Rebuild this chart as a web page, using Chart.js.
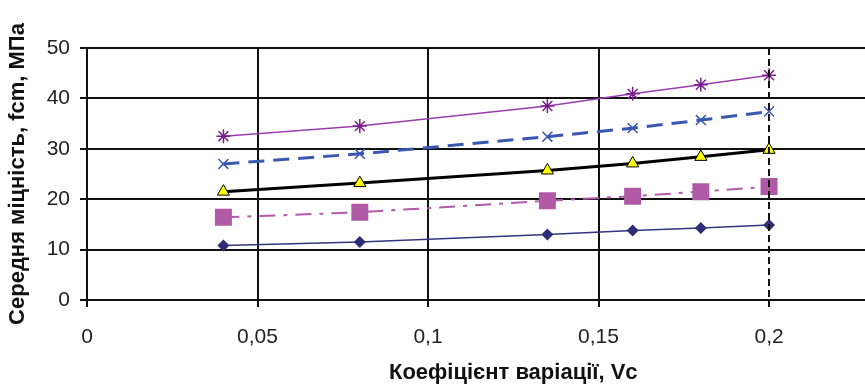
<!DOCTYPE html>
<html>
<head>
<meta charset="utf-8">
<script src="https://cdn.jsdelivr.net/npm/chart.js@4/dist/chart.umd.min.js"></script>
<style>
  html,body{margin:0;padding:0;background:#fff;overflow:hidden;}
  #wrap{width:865px;height:386px;overflow:hidden;}
</style>
</head>
<body>
<div id="wrap"><canvas id="chart" width="978" height="386"></canvas></div>
<script>
// coefficient of variation, Vc
var vc=[0.04,0.08,0.135,0.16,0.18,0.2];
// mean strength fcm, MPa
var fcm1=[10.8,11.5,13.0,13.8,14.3,14.9];
var fcm2=[16.4,17.4,19.7,20.6,21.5,22.5];
var fcm3=[21.5,23.2,25.7,27.1,28.4,29.8];
var fcm4=[27.0,29.0,32.4,34.1,35.7,37.4];
var fcm5=[32.5,34.5,38.5,40.9,42.7,44.6];
var dashedAt=0.2;

function pts(ys){
  return vc.map(function(x,i){return {x:x,y:ys[i]};});
}

// dashed vertical line at Vc = 0.2
var dashLine={
  id:'dashLine',
  afterDatasetsDraw:function(chart){
    var xs=chart.scales.x, ys=chart.scales.y, c=chart.ctx;
    var px=Math.round(xs.getPixelForValue(dashedAt));
    c.save();
    c.strokeStyle='#111';
    c.lineWidth=2;
    c.setLineDash([7,4]);
    c.beginPath();
    c.moveTo(px,ys.top);
    c.lineTo(px,ys.bottom+7);
    c.stroke();
    c.restore();
  }
};

var font='"Liberation Sans", Arial, sans-serif';
function isDashed(ctx){return ctx.tick&&Math.abs(ctx.tick.value-dashedAt)<1e-6;}

var myChart=new Chart(document.getElementById('chart'),{
  type:'scatter',
  data:{
    datasets:[
      {data:pts(fcm5),showLine:true,borderColor:'#9a3db0',borderWidth:1.5,
       pointStyle:'star',pointRadius:7,pointBorderColor:'#7a1f8c',pointBorderWidth:1.5,pointBackgroundColor:'#7a1f8c'},
      {data:pts(fcm4),showLine:true,borderColor:'#3a58b0',borderWidth:3,borderDash:[16,9],
       pointStyle:'crossRot',pointRadius:7,pointBorderColor:'#3a58b0',pointBorderWidth:1.5},
      {data:pts(fcm3),showLine:true,borderColor:'#000',borderWidth:3,
       pointStyle:'triangle',pointRadius:7,pointBorderColor:'#000',pointBorderWidth:1,pointBackgroundColor:'#ffff00'},
      {data:pts(fcm2),showLine:true,borderColor:'#b35ba8',borderWidth:2,borderDash:[16,8,4,8],
       pointStyle:'rect',pointRadius:12,pointBorderColor:'#b05aa5',pointBorderWidth:0,pointBackgroundColor:'#b05aa5'},
      {data:pts(fcm1),showLine:true,borderColor:'#34347f',borderWidth:1.5,
       pointStyle:'rectRot',pointRadius:6,pointBorderColor:'#2e2e78',pointBorderWidth:0,pointBackgroundColor:'#2e2e78'}
    ]
  },
  options:{
    responsive:false,
    animation:false,
    devicePixelRatio:1,
    layout:{padding:{top:48,right:0,bottom:0,left:0}},
    plugins:{legend:{display:false},tooltip:{enabled:false}},
    scales:{
      x:{
        type:'linear',min:0,max:0.25,
        afterFit:function(s){s.height=86;},
        ticks:{stepSize:0.05,padding:18,color:'#222',font:{family:font,size:21},
          callback:function(v){return String(Math.round(v*100)/100).replace('.',',');}},
        grid:{
          color:function(ctx){return isDashed(ctx)?'rgba(0,0,0,0)':'#111';},
          lineWidth:2,tickLength:7,
          tickColor:function(ctx){return isDashed(ctx)?'rgba(0,0,0,0)':'#111';}
        },
        border:{color:'#111',width:2},
        title:{display:true,text:'Коефіцієнт варіації, Vc',color:'#111',
          font:{family:font,size:22,weight:'bold'},padding:{top:0,bottom:0}}
      },
      y:{
        min:0,max:50,
        afterFit:function(s){s.width=87;},
        ticks:{stepSize:10,padding:10,color:'#222',font:{family:font,size:21}},
        grid:{color:'#111',lineWidth:2,tickLength:7,tickColor:'#111'},
        border:{color:'#111',width:2},
        title:{display:true,text:'Середня міцність, fcm, МПа',color:'#111',
          font:{family:font,size:22,weight:'bold'},padding:{top:5,bottom:0}}
      }
    }
  },
  plugins:[dashLine]
});
</script>
</body>
</html>
